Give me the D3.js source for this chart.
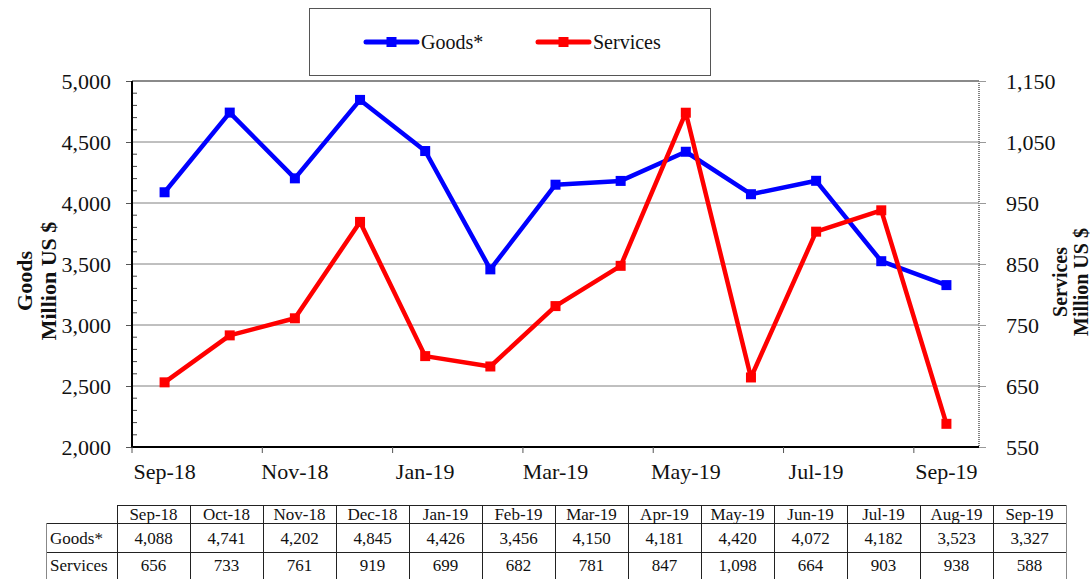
<!DOCTYPE html>
<html>
<head>
<meta charset="utf-8">
<script src="https://cdn.jsdelivr.net/npm/d3@7"></script>
<style>
  html, body { margin: 0; padding: 0; background: #fff; }
  svg, svg text { font-family: "Liberation Serif", "Times New Roman", Times, "DejaVu Serif", serif !important; }
</style>
</head>
<body>
<svg id="chart" width="1092" height="579"></svg>
<script>
const months = ["Sep-18","Oct-18","Nov-18","Dec-18","Jan-19","Feb-19","Mar-19","Apr-19","May-19","Jun-19","Jul-19","Aug-19","Sep-19"];
const goods = [4088, 4741, 4202, 4845, 4426, 3456, 4150, 4181, 4420, 4072, 4182, 3523, 3327];
const services = [656, 733, 761, 919, 699, 682, 781, 847, 1098, 664, 903, 938, 588];
const leftTicks = [2000, 2500, 3000, 3500, 4000, 4500, 5000];
const rightTicks = [550, 650, 750, 850, 950, 1050, 1150];
const xLabelMonths = ["Sep-18","Nov-18","Jan-19","Mar-19","May-19","Jul-19","Sep-19"];
const seriesNames = ["Goods*", "Services"];
const seriesColors = ["#0000ff", "#ff0000"];

const FONT = "'Liberation Serif', 'Times New Roman', Times, serif";
const svg = d3.select("#chart");
const L = 132, R = 979, T = 81, B = 447;

const x = d3.scaleBand().domain(months).range([L, R]);
const yL = d3.scaleLinear().domain([2000, 5000]).range([B, T]);
const yR = d3.scaleLinear().domain([550, 1150]).range([B, T]);
const fmt = d3.format(",");

// gridlines
svg.append("g").selectAll("line")
  .data(leftTicks.filter(d => d > 2000 && d < 5000))
  .join("line")
  .attr("x1", L).attr("x2", R)
  .attr("y1", d => yL(d)).attr("y2", d => yL(d))
  .attr("stroke", "#808080").attr("stroke-width", 1);

// top border
svg.append("line").attr("x1", L).attr("x2", R).attr("y1", T).attr("y2", T)
  .attr("stroke", "#8a8a8a").attr("stroke-width", 2);
// right border
svg.append("line").attr("x1", R).attr("x2", R).attr("y1", T).attr("y2", B)
  .attr("stroke", "#808080").attr("stroke-width", 2).attr("stroke-dasharray", "1,1");

// left axis
const gL = svg.append("g").attr("transform", `translate(${L},0)`)
  .call(d3.axisLeft(yL).tickValues(leftTicks).tickSize(6).tickPadding(15).tickFormat(fmt));
gL.attr("font-family", FONT);
gL.select(".domain").remove();
gL.selectAll(".tick line").attr("stroke", "#555");
gL.selectAll("text").attr("font-size", 22).attr("fill", "#111").style("font-family", FONT);
// minor ticks (inside)
svg.append("g").selectAll("line")
  .data(d3.range(2100, 5000, 100).filter(v => v % 500 !== 0))
  .join("line")
  .attr("x1", L).attr("x2", L + 5)
  .attr("y1", d => yL(d)).attr("y2", d => yL(d))
  .attr("stroke", "#444").attr("stroke-width", 1);
svg.append("line").attr("x1", L).attr("x2", L).attr("y1", T).attr("y2", B + 1)
  .attr("stroke", "#000").attr("stroke-width", 2);

// right axis
const gR = svg.append("g").attr("transform", `translate(${R},0)`)
  .call(d3.axisRight(yR).tickValues(rightTicks).tickSize(7).tickPadding(20).tickFormat(fmt));
gR.attr("font-family", FONT);
gR.select(".domain").remove();
gR.selectAll(".tick line").attr("stroke", "#999");
gR.selectAll("text").attr("font-size", 22).attr("fill", "#111").style("font-family", FONT);

// bottom axis
svg.append("line").attr("x1", L - 1).attr("x2", R).attr("y1", B).attr("y2", B)
  .attr("stroke", "#000").attr("stroke-width", 2);
svg.append("g").selectAll("line")
  .data(months.filter((m, i) => i % 2 === 0))
  .join("line")
  .attr("x1", d => x(d)).attr("x2", d => x(d))
  .attr("y1", B).attr("y2", B + 6)
  .attr("stroke", "#555").attr("stroke-width", 1);
const gB = svg.append("g").attr("transform", `translate(0,${B})`)
  .call(d3.axisBottom(x).tickValues(xLabelMonths).tickSize(0).tickPadding(16));
gB.attr("font-family", FONT);
gB.select(".domain").remove();
gB.selectAll("text").attr("font-size", 22).attr("fill", "#111").style("font-family", FONT);

// lines
const cx = m => x(m) + x.bandwidth() / 2;
const goodsData = months.map((m, i) => ({ m, v: goods[i] }));
const servData = months.map((m, i) => ({ m, v: services[i] }));

function drawSeries(data, yScale, color) {
  svg.append("path").datum(data)
    .attr("fill", "none").attr("stroke", color).attr("stroke-width", 4.5)
    .attr("stroke-linejoin", "round")
    .attr("d", d3.line().x(d => cx(d.m)).y(d => yScale(d.v)));
  svg.append("g").selectAll("rect").data(data).join("rect")
    .attr("x", d => cx(d.m) - 5).attr("y", d => yScale(d.v) - 5)
    .attr("width", 10).attr("height", 10).attr("fill", color);
}
drawSeries(goodsData, yL, seriesColors[0]);
drawSeries(servData, yR, seriesColors[1]);

// legend
svg.append("rect").attr("x", 309.5).attr("y", 8.5).attr("width", 401).attr("height", 67)
  .attr("fill", "#fff").attr("stroke", "#555").attr("stroke-width", 1);
const legendX = [366, 538];
seriesNames.forEach((name, i) => {
  const lx = legendX[i];
  svg.append("line").attr("x1", lx).attr("x2", lx + 51).attr("y1", 42).attr("y2", 42)
    .attr("stroke", seriesColors[i]).attr("stroke-width", 5).attr("stroke-linecap", "round");
  svg.append("rect").attr("x", lx + 20.5).attr("y", 37).attr("width", 10).attr("height", 10)
    .attr("fill", seriesColors[i]);
  svg.append("text").attr("x", lx + 55).attr("y", 49).attr("font-size", 20).attr("fill", "#111")
    .style("font-family", FONT).text(name);
});

// axis titles
function vTitle(lines, xs, yc, size) {
  lines.forEach((t, i) => {
    svg.append("text")
      .attr("transform", `translate(${xs[i]},${yc}) rotate(-90)`)
      .attr("text-anchor", "middle").attr("font-weight", "bold")
      .attr("font-size", size).attr("fill", "#111").style("font-family", FONT).text(t);
  });
}
vTitle(["Goods", "Million US $"], [32, 56], 281, 22);
vTitle(["Services", "Million US $"], [1067, 1088], 282, 20);

// table
const tx = d3.scaleBand().domain(months).range([117, 1066]);
const rowY = [505, 523, 552, 579];
const tbl = svg.append("g").style("font-family", FONT);
const lineC = "#222";
tbl.append("line").attr("x1", 117).attr("x2", 1066).attr("y1", rowY[0] + 0.5).attr("y2", rowY[0] + 0.5).attr("stroke", lineC);
[1, 2, 3].forEach(r => {
  tbl.append("line").attr("x1", 46).attr("x2", 1066).attr("y1", rowY[r] + 0.5).attr("y2", rowY[r] + 0.5).attr("stroke", lineC);
});
tbl.append("line").attr("x1", 46.5).attr("x2", 46.5).attr("y1", rowY[1]).attr("y2", rowY[3]).attr("stroke", "#888");
months.forEach(m => {
  tbl.append("line").attr("x1", tx(m) + 0.5).attr("x2", tx(m) + 0.5).attr("y1", rowY[0]).attr("y2", rowY[3]).attr("stroke", lineC);
});
tbl.append("line").attr("x1", 1066.5).attr("x2", 1066.5).attr("y1", rowY[0]).attr("y2", rowY[3]).attr("stroke", "#888");

const tcx = m => tx(m) + tx.bandwidth() / 2;
tbl.append("g").selectAll("text").data(months).join("text")
  .attr("x", d => tcx(d)).attr("y", 520).attr("text-anchor", "middle")
  .attr("font-size", 17).attr("fill", "#111").text(d => d);
tbl.append("g").selectAll("text").data(goodsData).join("text")
  .attr("x", d => tcx(d.m)).attr("y", 544).attr("text-anchor", "middle")
  .attr("font-size", 17).attr("fill", "#111").text(d => fmt(d.v));
tbl.append("g").selectAll("text").data(servData).join("text")
  .attr("x", d => tcx(d.m)).attr("y", 571).attr("text-anchor", "middle")
  .attr("font-size", 17).attr("fill", "#111").text(d => fmt(d.v));
tbl.append("text").attr("x", 50).attr("y", 544).attr("font-size", 17).attr("fill", "#111").text(seriesNames[0]);
tbl.append("text").attr("x", 50).attr("y", 571).attr("font-size", 17).attr("fill", "#111").text(seriesNames[1]);
</script>
</body>
</html>
